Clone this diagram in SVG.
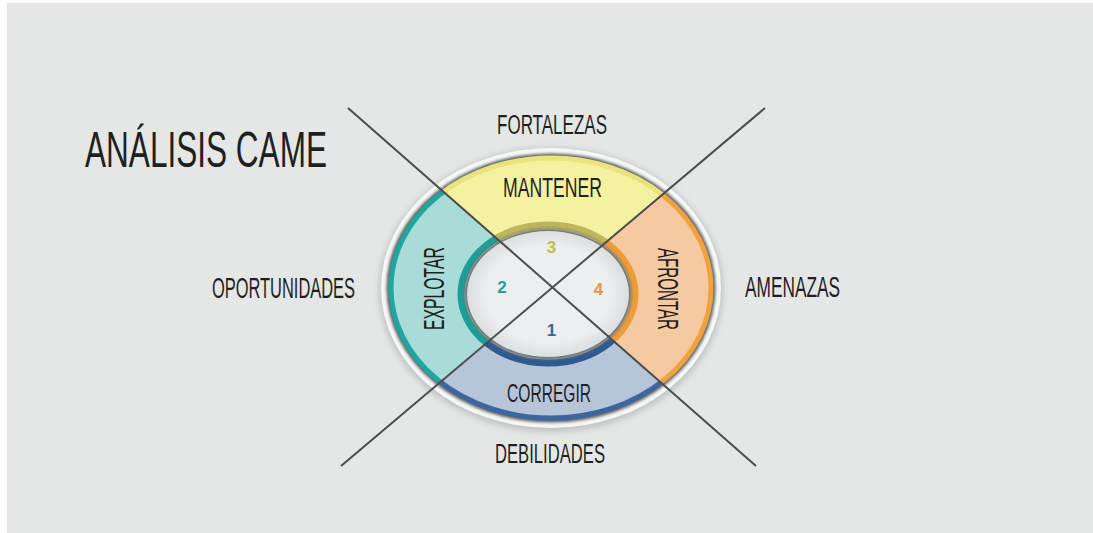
<svg xmlns="http://www.w3.org/2000/svg" width="1093" height="533" viewBox="0 0 1093 533">
<defs>
<style>
.lbl{font-family:"Liberation Sans Narrow","Liberation Sans",Arial,sans-serif;fill:#1f1f1f;}
.num{font-family:"Liberation Sans","DejaVu Sans",sans-serif;font-weight:bold;font-size:17px;text-anchor:middle;}
.xl{stroke:#4a4c4d;stroke-width:2;fill:none;}
</style>
<clipPath id="cTop"><polygon points="552.5,287.4 225,0 893,0"/></clipPath>
<clipPath id="cBot"><polygon points="552.5,287.4 832.6,533 261.4,533"/></clipPath>
<clipPath id="cLeft"><polygon points="552.5,287.4 225,0 0,0 0,533 261.4,533"/></clipPath>
<clipPath id="cRight"><polygon points="552.5,287.4 893,0 1093,0 1093,533 832.6,533"/></clipPath>
<filter id="blur" x="-20%" y="-20%" width="140%" height="140%"><feGaussianBlur stdDeviation="3"/></filter>
<filter id="blur2" x="-20%" y="-20%" width="140%" height="140%"><feGaussianBlur stdDeviation="1.5"/></filter>
<radialGradient id="disc" cx="50%" cy="50%" r="55%">
<stop offset="0.7" stop-color="#eceeef"/>
<stop offset="1" stop-color="#d5d8da"/>
</radialGradient>
</defs>
<rect x="0" y="0" width="1093" height="533" fill="#ffffff"/>
<rect x="7" y="3" width="1086" height="530" fill="#e4e7e6"/>

<g id="title">
<text class="lbl" x="85" y="167" font-size="50" textLength="242" lengthAdjust="spacingAndGlyphs">ANÁLISIS CAME</text>
</g>

<g id="ring">
<ellipse cx="551" cy="290" rx="172" ry="142" fill="#bfc2c3" filter="url(#blur)"/>
<ellipse cx="551" cy="288" rx="170" ry="140" fill="#f6f7f7"/>
<ellipse cx="551" cy="288" rx="164.5" ry="134.5" fill="#5a5d5e" filter="url(#blur2)"/>
</g>

<g id="node-mantener" clip-path="url(#cTop)">
<ellipse cx="551" cy="288" rx="160" ry="130" fill="#f4f1a0" stroke="#e9e57a" stroke-width="5"/>
<ellipse cx="548" cy="294" rx="87" ry="69" fill="none" stroke="#bdb65a" stroke-width="7"/>
<text class="lbl" x="503" y="197" font-size="27" textLength="99" lengthAdjust="spacingAndGlyphs">MANTENER</text>
</g>
<g id="node-explotar" clip-path="url(#cLeft)">
<ellipse cx="551" cy="288" rx="160" ry="130" fill="#a9dcd8" stroke="#1fa79f" stroke-width="5"/>
<ellipse cx="548" cy="294" rx="87" ry="69" fill="none" stroke="#1d9e96" stroke-width="7"/>
<text class="lbl" font-size="30" text-anchor="middle" textLength="83" lengthAdjust="spacingAndGlyphs" transform="translate(444,288.5) rotate(-90)">EXPLOTAR</text>
</g>
<g id="node-afrontar" clip-path="url(#cRight)">
<ellipse cx="551" cy="288" rx="160" ry="130" fill="#f6caa0" stroke="#f0a23e" stroke-width="5"/>
<ellipse cx="548" cy="294" rx="87" ry="69" fill="none" stroke="#ec9d3a" stroke-width="7"/>
<text class="lbl" font-size="30" text-anchor="middle" textLength="82" lengthAdjust="spacingAndGlyphs" transform="translate(658,289) rotate(90)">AFRONTAR</text>
</g>
<g id="node-corregir" clip-path="url(#cBot)">
<ellipse cx="551" cy="288" rx="160" ry="130" fill="#b6c5d8" stroke="#3b66a0" stroke-width="5"/>
<ellipse cx="548" cy="294" rx="87" ry="69" fill="none" stroke="#2f5a90" stroke-width="7"/>
<text class="lbl" x="507" y="402" font-size="26" textLength="84" lengthAdjust="spacingAndGlyphs">CORREGIR</text>
</g>

<g id="center">
<ellipse cx="548" cy="294" rx="83.5" ry="65.5" fill="#6b6e70" filter="url(#blur2)"/>
<ellipse cx="548" cy="294" rx="81" ry="63" fill="url(#disc)"/>
</g>

<g id="connectors">
<line class="xl" x1="348" y1="108" x2="756" y2="466"/>
<line class="xl" x1="765" y1="108" x2="341" y2="466"/>
</g>

<g id="numbers">
<text class="num" x="551.5" y="253" fill="#c4bb45">3</text>
<text class="num" x="502" y="293" fill="#2a9d9a">2</text>
<text class="num" x="598.5" y="294.5" fill="#e29a3c">4</text>
<text class="num" x="551.5" y="335.5" fill="#3a6797">1</text>
</g>

<g id="node-fortalezas"><text class="lbl" x="497" y="134" font-size="27" textLength="110" lengthAdjust="spacingAndGlyphs">FORTALEZAS</text></g>
<g id="node-debilidades"><text class="lbl" x="495" y="463" font-size="28" textLength="110" lengthAdjust="spacingAndGlyphs">DEBILIDADES</text></g>
<g id="node-oportunidades"><text class="lbl" x="212" y="298" font-size="30" textLength="143" lengthAdjust="spacingAndGlyphs">OPORTUNIDADES</text></g>
<g id="node-amenazas"><text class="lbl" x="745" y="297" font-size="29" textLength="95" lengthAdjust="spacingAndGlyphs">AMENAZAS</text></g>
</svg>
